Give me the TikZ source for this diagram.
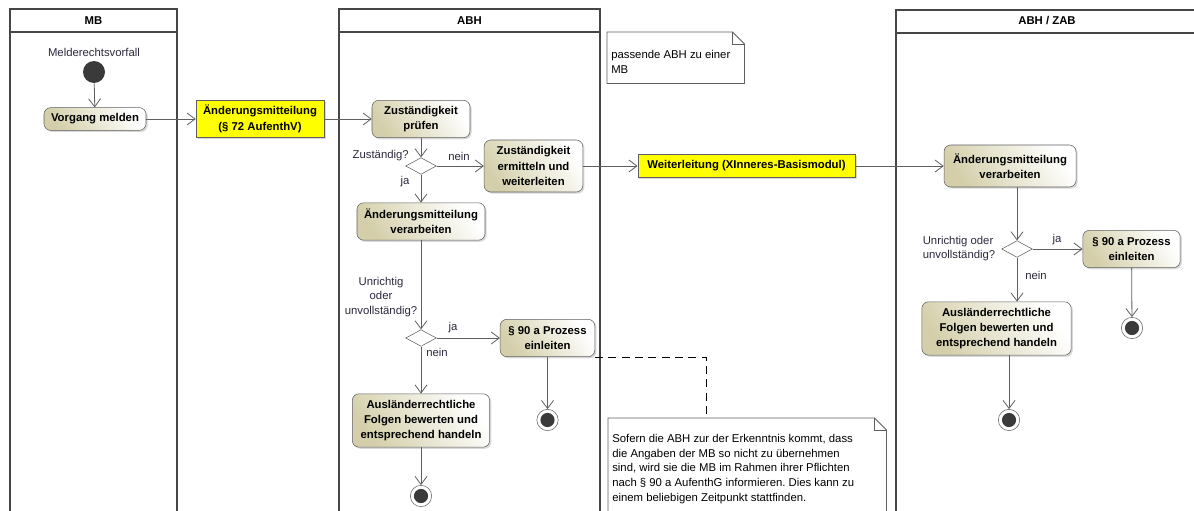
\documentclass[tikz,border=0pt]{standalone}
\usepackage{fontspec}
\setmainfont{Liberation Sans}
\frenchspacing
\usetikzlibrary{arrows.meta,positioning,shapes.geometric,shadows}
\definecolor{laneline}{RGB}{70,70,70}
\definecolor{flowgray}{RGB}{95,95,95}
\definecolor{actfill}{RGB}{212,207,170}
\definecolor{objyellow}{RGB}{255,255,0}
\definecolor{dotgray}{RGB}{58,58,58}
\definecolor{labelink}{RGB}{45,40,60}
\tikzset{
  lane/.style     = {draw=laneline,line width=1.2pt},
  lanehead/.style = {font=\bfseries\fontsize{8.5}{10}\selectfont,inner sep=0pt},
  act/.style      = {draw=flowgray,rounded corners=5pt,top color=white,
                     bottom color=actfill,shading angle=-55,align=center,
                     font=\bfseries\fontsize{8.5}{11.5}\selectfont,inner sep=2pt,
                     drop shadow={shadow xshift=1.2pt,shadow yshift=-1.2pt,fill=black!30}},
  obj/.style      = {draw=flowgray,fill=objyellow,align=center,
                     font=\bfseries\fontsize{8.5}{11.5}\selectfont,inner sep=2pt,
                     drop shadow={shadow xshift=1.2pt,shadow yshift=-1.2pt,fill=black!30}},
  dec/.style      = {diamond,draw=flowgray,fill=white,aspect=1.9,inner sep=0pt,
                     minimum width=23pt,minimum height=12.5pt},
  start/.style    = {circle,fill=dotgray,minimum size=16.5pt,inner sep=0pt},
  final/.style    = {circle,draw=flowgray,fill=white,minimum size=16pt,inner sep=0pt,
                     path picture={\fill[dotgray] (path picture bounding box.center) circle (5.3pt);}},
  flow/.style     = {draw=flowgray,line width=0.6pt,-{Straight Barb[length=6pt,width=9pt]}},
  guard/.style    = {font=\fontsize{8.5}{11}\selectfont,text=labelink,inner sep=0pt},
  notebox/.style  = {draw=none,fill=white,inner sep=0pt},
  notetext/.style = {font=\fontsize{8.5}{11}\selectfont,align=left,inner sep=0pt,anchor=north west},
  fold/.style     = {draw=flowgray,line width=0.6pt},
  anchorline/.style = {draw=black,line width=0.6pt,dash pattern=on 6pt off 4pt},
}

\begin{document}
\begin{tikzpicture}[x=0.75pt,y=-0.75pt]
  \fill[white,use as bounding box] (0,0) rectangle (1194,510);

  % swimlanes
  \draw[lane] (10,9) rectangle (177,520);
  \draw[lane] (10,32) -- (177,32);
  \node[lanehead] (mb) at (93.5,20.5) {MB};
  \draw[lane] (339,9) rectangle (600,520);
  \draw[lane] (339,32) -- (600,32);
  \node[lanehead] (abh) at (469.5,20.5) {ABH};
  \draw[lane] (896,10) rectangle (1210,520);
  \draw[lane] (896,33) -- (1210,33);
  \node[lanehead] (zab) at (1047,21) {ABH / ZAB};

  % notes
  \node[notebox,anchor=north west,minimum width=102.75pt,minimum height=38.25pt] (noteA) at (607,32) {};
  \draw[fold] (noteA.north west) -- ([xshift=-9pt]noteA.north east) -- ([yshift=-9pt]noteA.north east)
    -- (noteA.south east) -- (noteA.south west) -- cycle;
  \draw[fold] ([xshift=-9pt]noteA.north east) |- ([yshift=-9pt]noteA.north east);
  \node[notetext] (noteAtext) at (611,50) {passende ABH zu einer\\MB};

  \node[notebox,anchor=north west,minimum width=208.5pt,minimum height=76.5pt] (noteB) at (608,418) {};
  \draw[fold] (noteB.north west) -- ([xshift=-9pt]noteB.north east) -- ([yshift=-9pt]noteB.north east)
    -- (noteB.south east) -- (noteB.south west) -- cycle;
  \draw[fold] ([xshift=-9pt]noteB.north east) |- ([yshift=-9pt]noteB.north east);
  \node[notetext] (noteBtext) at (612,434) {Sofern die ABH zur der Erkenntnis kommt, dass\\
    die Angaben der MB so nicht zu übernehmen\\
    sind, wird sie die MB im Rahmen ihrer Pflichten\\
    nach § 90 a AufenthG informieren. Dies kann zu\\
    einem beliebigen Zeitpunkt stattfinden.};
  \coordinate (noteBtop) at (706,418);

  % MB
  \node[start] (init) at (94,72) {};
  \node[guard,above=3pt of init] (evt) {Melderechtsvorfall};
  \node[act,minimum width=76.5pt,minimum height=17pt] (vorgang) at (95,119) {Vorgang melden};
  \node[obj,minimum width=96pt,minimum height=28pt] (aemt) at (260,119) {Änderungsmitteilung\\(§ 72 AufenthV)};

  % ABH
  \node[act,minimum width=73.5pt,minimum height=28pt] (pruefen) at (421,119) {Zuständigkeit\\prüfen};
  \node[dec] (zust) at (421,166) {};
  \node[act,minimum width=74pt,minimum height=39pt] (ermitteln) at (533.5,166) {Zuständigkeit\\ermitteln und\\weiterleiten};
  \node[act,minimum width=96pt,minimum height=28pt] (verarbA) at (421,221.5) {Änderungsmitteilung\\verarbeiten};
  \node[dec] (korrA) at (421,338) {};
  \node[act,minimum width=71pt,minimum height=28pt] (pruefA) at (547.5,338) {§ 90 a Prozess\\einleiten};
  \node[final] (endA) at (547.5,420) {};
  \node[act,minimum width=103pt,minimum height=40pt] (folgenA) at (421,420.5) {Ausländerrechtliche\\Folgen bewerten und\\entsprechend handeln};
  \node[final] (endB) at (421,496) {};

  \node[guard,anchor=east] (lzust) at (409,156) {Zuständig?};
  \node[guard] (lneinA) at (459,156) {nein};
  \node[guard] (ljaA) at (405,182) {ja};
  \node[guard,align=center] (lkorrA) at (381,297) {Unrichtig\\oder\\unvollständig?};
  \node[guard] (ljaB) at (453,328) {ja};
  \node[guard] (lneinB) at (437,352) {nein};

  % Weiterleitung
  \node[obj,minimum width=163pt,minimum height=17pt] (weiter) at (746.5,166) {Weiterleitung (XInneres-Basismodul)};

  % ABH / ZAB
  \node[act,minimum width=99pt,minimum height=31.5pt] (verarbB) at (1010,166) {Änderungsmitteilung\\verarbeiten};
  \node[dec] (korrB) at (1017,249) {};
  \node[act,minimum width=73pt,minimum height=28pt] (pruefB) at (1131.5,249) {§ 90 a Prozess\\einleiten};
  \node[final] (endC) at (1132,328) {};
  \node[act,minimum width=112pt,minimum height=40pt] (folgenB) at (996.5,328.5) {Ausländerrechtliche\\Folgen bewerten und\\entsprechend handeln};
  \node[final] (endD) at (1009,420) {};

  \node[guard,align=left] (lkorrB) at (959,248.5) {Unrichtig oder\\unvollständig?};
  \node[guard] (ljaC) at (1057,240) {ja};
  \node[guard] (lneinC) at (1036,275) {nein};

  % flows
  \draw[flow] (init) -- (vorgang);
  \draw[flow] (vorgang) -- (aemt);
  \draw[flow] (aemt) -- (pruefen);
  \draw[flow] (pruefen) -- (zust);
  \draw[flow] (zust) -- (ermitteln);
  \draw[flow] (zust) -- (verarbA);
  \draw[flow] (ermitteln) -- (weiter);
  \draw[flow] (weiter) -- (verarbB);
  \draw[flow] (verarbA) -- (korrA);
  \draw[flow] (korrA) -- (pruefA);
  \draw[flow] (korrA) -- (folgenA);
  \draw[flow] (pruefA) -- (endA);
  \draw[flow] (folgenA) -- (endB);
  \draw[flow] (verarbB.south -| korrB) -- (korrB);
  \draw[flow] (korrB) -- (pruefB);
  \draw[flow] (korrB) -- (korrB |- folgenB.north);
  \draw[flow] (pruefB) -- (endC);
  \draw[flow] (folgenB.south -| endD) -- (endD);

  % note anchor
  \draw[anchorline] (pruefA.south east) -| (noteBtop);
\end{tikzpicture}
\end{document}
